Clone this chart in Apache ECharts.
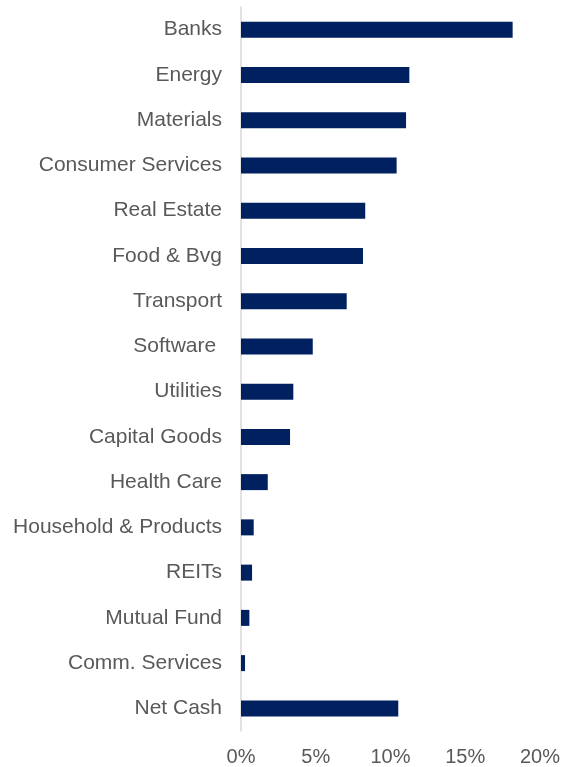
<!DOCTYPE html>
<html>
<head>
<meta charset="utf-8">
<script src="https://cdn.jsdelivr.net/npm/echarts@6/dist/echarts.min.js"></script>
<style>
html,body{margin:0;padding:0;background:#fff;}
#chart{width:564px;height:767px;}
</style>
</head>
<body>
<div id="chart"></div>
<script>
const categories = ["Banks","Energy","Materials","Consumer Services","Real Estate","Food & Bvg","Transport","Software ","Utilities","Capital Goods","Health Care","Household & Products","REITs","Mutual Fund","Comm. Services","Net Cash"];
const weights = [18.17, 11.26, 11.04, 10.41, 8.31, 8.16, 7.07, 4.80, 3.50, 3.28, 1.79, 0.85, 0.74, 0.56, 0.27, 10.52];
const xTicks = [0, 5, 10, 15, 20];

const chart = echarts.init(document.getElementById('chart'));
chart.setOption({
  animation: false,
  grid: { left: 241, right: 24, top: 7, bottom: 34, containLabel: false },
  xAxis: {
    type: 'value',
    min: xTicks[0],
    max: xTicks[xTicks.length - 1],
    interval: 5,
    axisLine: { show: false },
    axisTick: { show: false },
    splitLine: { show: false },
    axisLabel: {
      formatter: v => v + '%',
      color: '#595959',
      fontFamily: 'Liberation Sans, Arial, sans-serif',
      fontSize: 20,
      margin: 16
    }
  },
  yAxis: {
    type: 'category',
    data: categories,
    inverse: true,
    axisLine: { show: true, lineStyle: { color: '#d9d9d9', width: 1.5 } },
    axisTick: { show: false },
    axisLabel: {
      color: '#595959',
      fontFamily: 'Liberation Sans, Arial, sans-serif',
      fontSize: 21,
      margin: 19,
      padding: [4, 0, 0, 0]
    }
  },
  series: [{
    type: 'bar',
    data: weights,
    barWidth: 16,
    itemStyle: { color: '#002060' }
  }]
});
</script>
</body>
</html>
